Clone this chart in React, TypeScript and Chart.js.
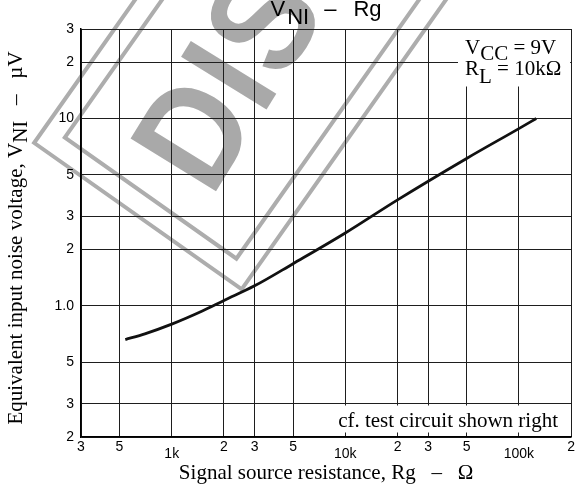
import React, { useEffect, useRef } from 'react';
import { Chart, registerables } from 'chart.js';

Chart.register(...registerables);

// ---- data ----
const resistance = [540, 700, 1000, 1500, 2000, 3000, 5000, 10000, 20000, 50000, 100000, 126000];
const noiseVoltage = [0.662, 0.71, 0.8, 0.94, 1.07, 1.28, 1.68, 2.45, 3.68, 6.12, 8.83, 10.0];

const xTickValues = [300, 500, 1000, 2000, 3000, 5000, 10000, 20000, 30000, 50000, 100000, 200000];
const xTickLabels = ['3', '5', '1k', '2', '3', '5', '10k', '2', '3', '5', '100k', '2'];
const xDecades = [1000, 10000, 100000];

const yTickValues = [0.2, 0.3, 0.5, 1, 2, 3, 5, 10, 20, 30];
const yTickLabels = ['2', '3', '5', '1.0', '2', '3', '5', '10', '2', '3'];

const SANS = '"Liberation Sans", Arial, sans-serif';
const SERIF = '"Liberation Serif", "Times New Roman", serif';

type Seg = { t: string; dy?: number; gap?: number };

function segWidth(ctx: CanvasRenderingContext2D, segs: Seg[]) {
  let w = 0;
  for (const s of segs) w += (s.gap || 0) + ctx.measureText(s.t).width;
  return w;
}

function drawSegs(ctx: CanvasRenderingContext2D, segs: Seg[], x: number, y: number) {
  let cx = x;
  for (const s of segs) {
    cx += s.gap || 0;
    ctx.fillText(s.t, cx, y + (s.dy || 0));
    cx += ctx.measureText(s.t).width;
  }
}

const watermark = {
  id: 'watermark',
  beforeDraw(chart: any) {
    const ctx: CanvasRenderingContext2D = chart.ctx;
    ctx.save();
    ctx.strokeStyle = '#adadad';
    ctx.lineWidth = 4;
    ctx.translate(241.7, 289.3);
    ctx.rotate((-54.8 * Math.PI) / 180);
    ctx.strokeRect(0, -254, 1000, 254);
    ctx.strokeRect(22, -232, 1000, 210);
    ctx.translate(56.7, -77);
    ctx.rotate((-3.5 * Math.PI) / 180);
    ctx.scale(0.88, 1);
    ctx.fillStyle = '#a9a9a9';
    ctx.font = `bold 146px ${SANS}`;
    ctx.textBaseline = 'alphabetic';
    ctx.textAlign = 'left';
    (ctx as any).letterSpacing = '4px';
    ctx.fillText('DISCONTINUED', 0, 0);
    ctx.restore();
  },
};

const annotations = {
  id: 'annotations',
  afterDraw(chart: any) {
    const ctx: CanvasRenderingContext2D = chart.ctx;
    const area = chart.chartArea;
    ctx.save();
    ctx.textBaseline = 'alphabetic';
    ctx.textAlign = 'left';
    ctx.fillStyle = '#000';

    // Title
    ctx.font = `22px ${SANS}`;
    const title: Seg[] = [
      { t: 'V' },
      { t: 'NI', dy: 7.5, gap: 2 },
      { t: '–', gap: 15 },
      { t: 'Rg', gap: 17 },
    ];
    const tw = segWidth(ctx, title);
    drawSegs(ctx, title, (area.left + area.right) / 2 - tw / 2, 16);

    // Y-axis title (rotated, with subscript)
    ctx.font = `21px ${SERIF}`;
    const ylab: Seg[] = [
      { t: 'Equivalent input noise voltage, V' },
      { t: 'NI', dy: 5 },
      { t: '   –   µV' },
    ];
    ctx.save();
    ctx.translate(22, 238);
    ctx.rotate(-Math.PI / 2);
    const yw = segWidth(ctx, ylab);
    drawSegs(ctx, ylab, -yw / 2, 0);
    ctx.restore();

    // Condition box (top right)
    ctx.fillStyle = '#fff';
    ctx.fillRect(458, area.top + 1, area.right - 458 - 1, 86.5 - area.top - 1);
    ctx.fillStyle = '#000';
    ctx.font = `21px ${SERIF}`;
    drawSegs(ctx, [{ t: 'V' }, { t: 'CC', dy: 6 }, { t: ' = 9V' }], 465, 54);
    drawSegs(ctx, [{ t: 'R' }, { t: 'L', dy: 8 }, { t: ' = 10kΩ' }], 465, 75);

    // Note box (bottom right)
    ctx.fillStyle = '#fff';
    ctx.fillRect(333, 405.5, area.right - 333 - 1, 27);
    ctx.fillStyle = '#000';
    ctx.textAlign = 'right';
    ctx.fillText('cf. test circuit shown right', 558, 427);

    ctx.restore();
  },
};

export default function App() {
  const ref = useRef<HTMLCanvasElement>(null);

  useEffect(() => {
    document.body.style.margin = '0';
    const canvas = ref.current!;
    const chart = new Chart(canvas, {
      type: 'line',
      data: {
        datasets: [
          {
            data: resistance.map((r, i) => ({ x: r, y: noiseVoltage[i] })),
            borderColor: '#111',
            borderWidth: 2.8,
            pointRadius: 0,
            fill: false,
            cubicInterpolationMode: 'monotone',
          },
        ],
      },
      options: {
        responsive: false,
        animation: false,
        devicePixelRatio: 1,
        layout: { padding: { top: 29, right: 5, left: 0, bottom: 0 } },
        plugins: { legend: { display: false }, tooltip: { enabled: false }, title: { display: false } },
        scales: {
          x: {
            type: 'logarithmic',
            min: 300,
            max: 200000,
            afterBuildTicks: (s: any) => {
              s.ticks = xTickValues.map((v) => ({ value: v }));
            },
            afterFit: (s: any) => {
              s.height = 49;
            },
            ticks: {
              autoSkip: false,
              maxRotation: 0,
              minRotation: 0,
              padding: 2,
              color: '#000',
              font: (c: any) => ({
                family: SANS,
                size: 14,
                lineHeight: c.tick && xDecades.includes(c.tick.value) ? 2.1 : 1.2,
              }),
              callback: (_v: any, i: number) => xTickLabels[i],
            },
            grid: { color: '#1e1e1e', lineWidth: 1, drawTicks: false },
            border: { color: '#000', width: 1.5 },
            title: {
              display: true,
              text: 'Signal source resistance, Rg   –   Ω',
              color: '#000',
              font: { family: SERIF, size: 21 },
              padding: { top: 0, bottom: 0 },
            },
          },
          y: {
            type: 'logarithmic',
            min: 0.2,
            max: 30,
            afterBuildTicks: (s: any) => {
              s.ticks = yTickValues.map((v) => ({ value: v }));
            },
            afterFit: (s: any) => {
              s.width = 81;
            },
            ticks: {
              autoSkip: false,
              padding: 7,
              color: '#000',
              font: { family: SANS, size: 14 },
              callback: (_v: any, i: number) => yTickLabels[i],
            },
            grid: { color: '#1e1e1e', lineWidth: 1, drawTicks: false },
            border: { color: '#000', width: 1.5 },
          },
        },
      } as any,
      plugins: [watermark, annotations],
    });
    return () => chart.destroy();
  }, []);

  return <canvas ref={ref} width={577} height={486} style={{ display: 'block' }} />;
}
